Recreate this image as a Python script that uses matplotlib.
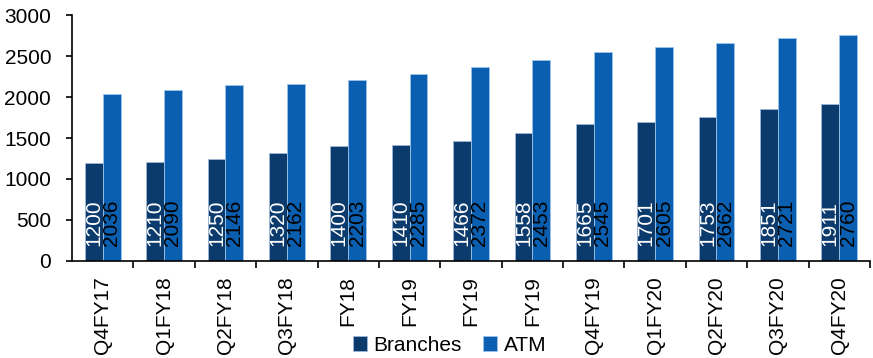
import matplotlib
matplotlib.use("Agg")
import matplotlib.pyplot as plt
import numpy as np

categories = ["Q4FY17", "Q1FY18", "Q2FY18", "Q3FY18", "FY18", "FY19", "FY19",
              "FY19", "Q4FY19", "Q1FY20", "Q2FY20", "Q3FY20", "Q4FY20"]
branches = [1200, 1210, 1250, 1320, 1400, 1410, 1466, 1558, 1665, 1701, 1753, 1851, 1911]
atm = [2036, 2090, 2146, 2162, 2203, 2285, 2372, 2453, 2545, 2605, 2662, 2721, 2760]

plt.rcParams['font.family'] = ['Liberation Sans', 'DejaVu Sans']
FS = 15

fig = plt.figure(figsize=(8.73, 3.58), dpi=100)
ax = fig.add_axes([0.0825, 0.271, 0.914, 0.687])

x = np.arange(len(categories))
w = 0.29
c1 = "#0B3A6C"
c2 = "#0A5FB0"
b1 = ax.bar(x - w/2, branches, w, color=c1, edgecolor="#9DB7D5", linewidth=0.6, label="Branches")
b2 = ax.bar(x + w/2, atm, w, color=c2, edgecolor="#9DC3EA", linewidth=0.6, label="ATM")

for xi, v in zip(x, branches):
    ax.annotate(str(v), xy=(xi - w/2, 0), xytext=(0, 15), textcoords="offset pixels",
                rotation=90, ha="center", va="bottom", color="white", fontsize=FS)
for xi, v in zip(x, atm):
    ax.annotate(str(v), xy=(xi + w/2, 0), xytext=(0, 15), textcoords="offset pixels",
                rotation=90, ha="center", va="bottom", color="black", fontsize=FS)

ax.set_xlim(-0.5, len(categories) - 0.5)
ax.set_ylim(0, 3000)
ax.set_yticks(range(0, 3001, 500))
ax.tick_params(axis="y", labelsize=FS, direction="out", length=4, width=1.2, pad=11)

ax.set_xticks(x)
ax.set_xticklabels(categories, rotation=90, fontsize=FS)
ax.tick_params(axis="x", which="major", length=0, pad=11)
ax.set_xticks(np.arange(-0.5, len(categories), 1.0)[1:], minor=True)
ax.tick_params(axis="x", which="minor", length=5, width=1.2, direction="out")

for s in ["top", "right"]:
    ax.spines[s].set_visible(False)
for s in ["left", "bottom"]:
    ax.spines[s].set_linewidth(1.2)

fig.legend(handles=[b1, b2], labels=["Branches", "ATM"], loc="center",
           bbox_to_anchor=(0.515, 0.036), ncol=2, frameon=False, fontsize=FS,
           handlelength=0.7, handleheight=0.7, handletextpad=0.3, columnspacing=1.0)

fig.savefig("out.png", dpi=100)
